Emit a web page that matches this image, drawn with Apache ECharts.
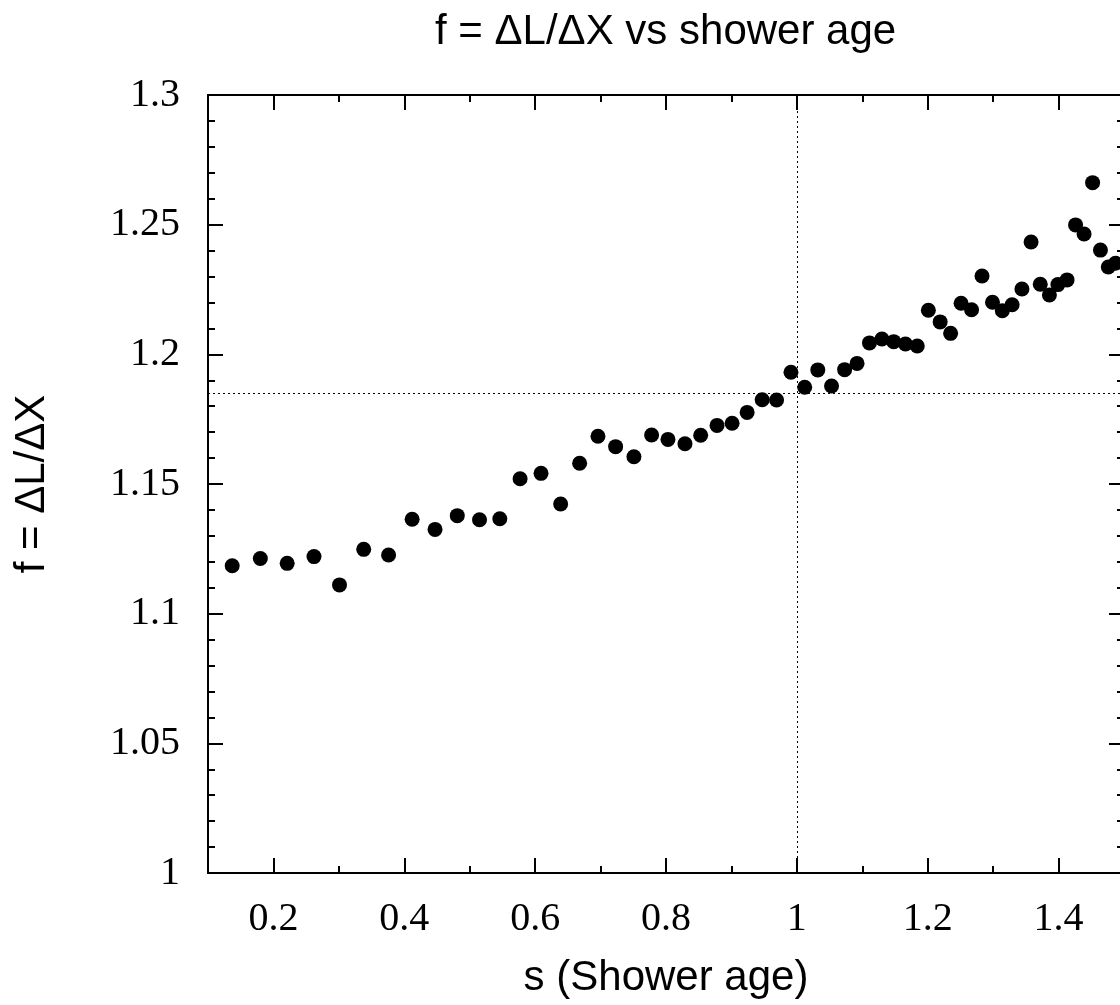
<!DOCTYPE html>
<html>
<head>
<meta charset="UTF-8">
<title>f vs shower age</title>
<script src="https://cdn.jsdelivr.net/npm/echarts@6/dist/echarts.min.js"></script>
<style>
  html, body { margin: 0; padding: 0; background: #fff; }
  #main { width: 1120px; height: 1005px; }
</style>
</head>
<body>
<div id="main"></div>
<script type="text/javascript">
// shower age s
var sAge = [0.137, 0.180, 0.221, 0.262, 0.301, 0.338, 0.376, 0.412, 0.447, 0.481,
            0.515, 0.546, 0.577, 0.609, 0.639, 0.668, 0.696, 0.723, 0.751, 0.778,
            0.803, 0.829, 0.853, 0.878, 0.901, 0.924, 0.947, 0.969, 0.991, 1.012,
            1.032, 1.053, 1.073, 1.092, 1.111, 1.130, 1.148, 1.166, 1.184, 1.201,
            1.219, 1.235, 1.251, 1.267, 1.283, 1.299, 1.314, 1.329, 1.344, 1.358,
            1.372, 1.386, 1.399, 1.413, 1.426, 1.439, 1.452, 1.464, 1.476, 1.487];
// f = dL/dX
var fVals = [1.1185, 1.1213, 1.1194, 1.1220, 1.1111, 1.1248, 1.1226, 1.1364, 1.1325, 1.1378,
             1.1362, 1.1366, 1.1520, 1.1541, 1.1423, 1.1580, 1.1684, 1.1644, 1.1605, 1.1689,
             1.1672, 1.1655, 1.1688, 1.1726, 1.1734, 1.1776, 1.1825, 1.1824, 1.1931, 1.1873,
             1.1940, 1.1878, 1.1941, 1.1965, 1.2044, 1.2059, 1.2049, 1.2040, 1.2032, 1.2170,
             1.2125, 1.2081, 1.2197, 1.2172, 1.2302, 1.2201, 1.2168, 1.2191, 1.2252, 1.2433,
             1.2270, 1.2229, 1.2269, 1.2287, 1.2499, 1.2464, 1.2662, 1.2402, 1.2337, 1.2351];

var xMajor = [0.2, 0.4, 0.6, 0.8, 1, 1.2, 1.4];
var xMinor = [0.3, 0.5, 0.7, 0.9, 1.1, 1.3, 1.5];
var refS = 1;
var refF = 1.185;

var points = [];
for (var i = 0; i < sAge.length; i++) {
  points.push([sAge[i], fVals[i]]);
}

var myChart = echarts.init(document.getElementById('main'));

var sans = 'Liberation Sans';
var serif = 'Liberation Serif';

function xAx(pos, ticks, len, showLine, showLabel) {
  return {
    type: 'value',
    position: pos,
    min: 0.1,
    max: 1.5,
    name: (pos == 'bottom' && showLabel) ? 's (Shower age)' : '',
    nameLocation: 'middle',
    nameGap: 84,
    nameTextStyle: { fontFamily: sans, fontSize: 42, color: '#000' },
    axisLine: { show: showLine, lineStyle: { color: '#000', width: 2 } },
    axisTick: { show: true, inside: true, length: len, customValues: ticks,
                lineStyle: { color: '#000', width: 2 } },
    axisLabel: { show: showLabel, customValues: ticks, margin: 26,
                 fontFamily: serif, fontSize: 40, color: '#000' },
    splitLine: { show: false }
  };
}

function yAx(pos, showLabel) {
  return {
    type: 'value',
    position: pos,
    min: 1,
    max: 1.3,
    interval: 0.05,
    name: showLabel ? 'f = ΔL/ΔX' : '',
    nameLocation: 'middle',
    nameGap: 155,
    nameTextStyle: { fontFamily: sans, fontSize: 42, color: '#000' },
    axisLine: { show: true, lineStyle: { color: '#000', width: 2 } },
    axisTick: { show: true, inside: true, length: 15, lineStyle: { color: '#000', width: 2 } },
    minorTick: { show: true, splitNumber: 5, length: 7, lineStyle: { color: '#000', width: 2 } },
    axisLabel: { show: showLabel, margin: 28, fontFamily: serif, fontSize: 40, color: '#000' },
    splitLine: { show: false }
  };
}

var option = {
  animation: false,
  backgroundColor: '#fff',
  title: {
    text: 'f = ΔL/ΔX vs shower age',
    left: 430,
    top: 6,
    textStyle: { fontFamily: sans, fontSize: 42, fontWeight: 'normal', color: '#000' }
  },
  grid: { left: 208, top: 95, width: 916, height: 778, outerBoundsMode: 'none' },
  xAxis: [
    xAx('bottom', xMajor, 15, true, true),
    xAx('bottom', xMinor, 7, false, false),
    xAx('top', xMajor, 15, true, false),
    xAx('top', xMinor, 7, false, false)
  ],
  yAxis: [
    yAx('left', true),
    yAx('right', false)
  ],
  series: [
    {
      type: 'scatter',
      xAxisIndex: 0,
      yAxisIndex: 0,
      data: points,
      symbol: 'circle',
      symbolSize: 15,
      itemStyle: { color: '#000', opacity: 1 },
      clip: true,
      markLine: {
        silent: true,
        symbol: 'none',
        precision: 3,
        label: { show: false },
        lineStyle: { color: '#000', width: 1, type: [2, 3] },
        data: [ { yAxis: refF }, { xAxis: refS } ]
      }
    }
  ]
};

myChart.setOption(option);
</script>
</body>
</html>
